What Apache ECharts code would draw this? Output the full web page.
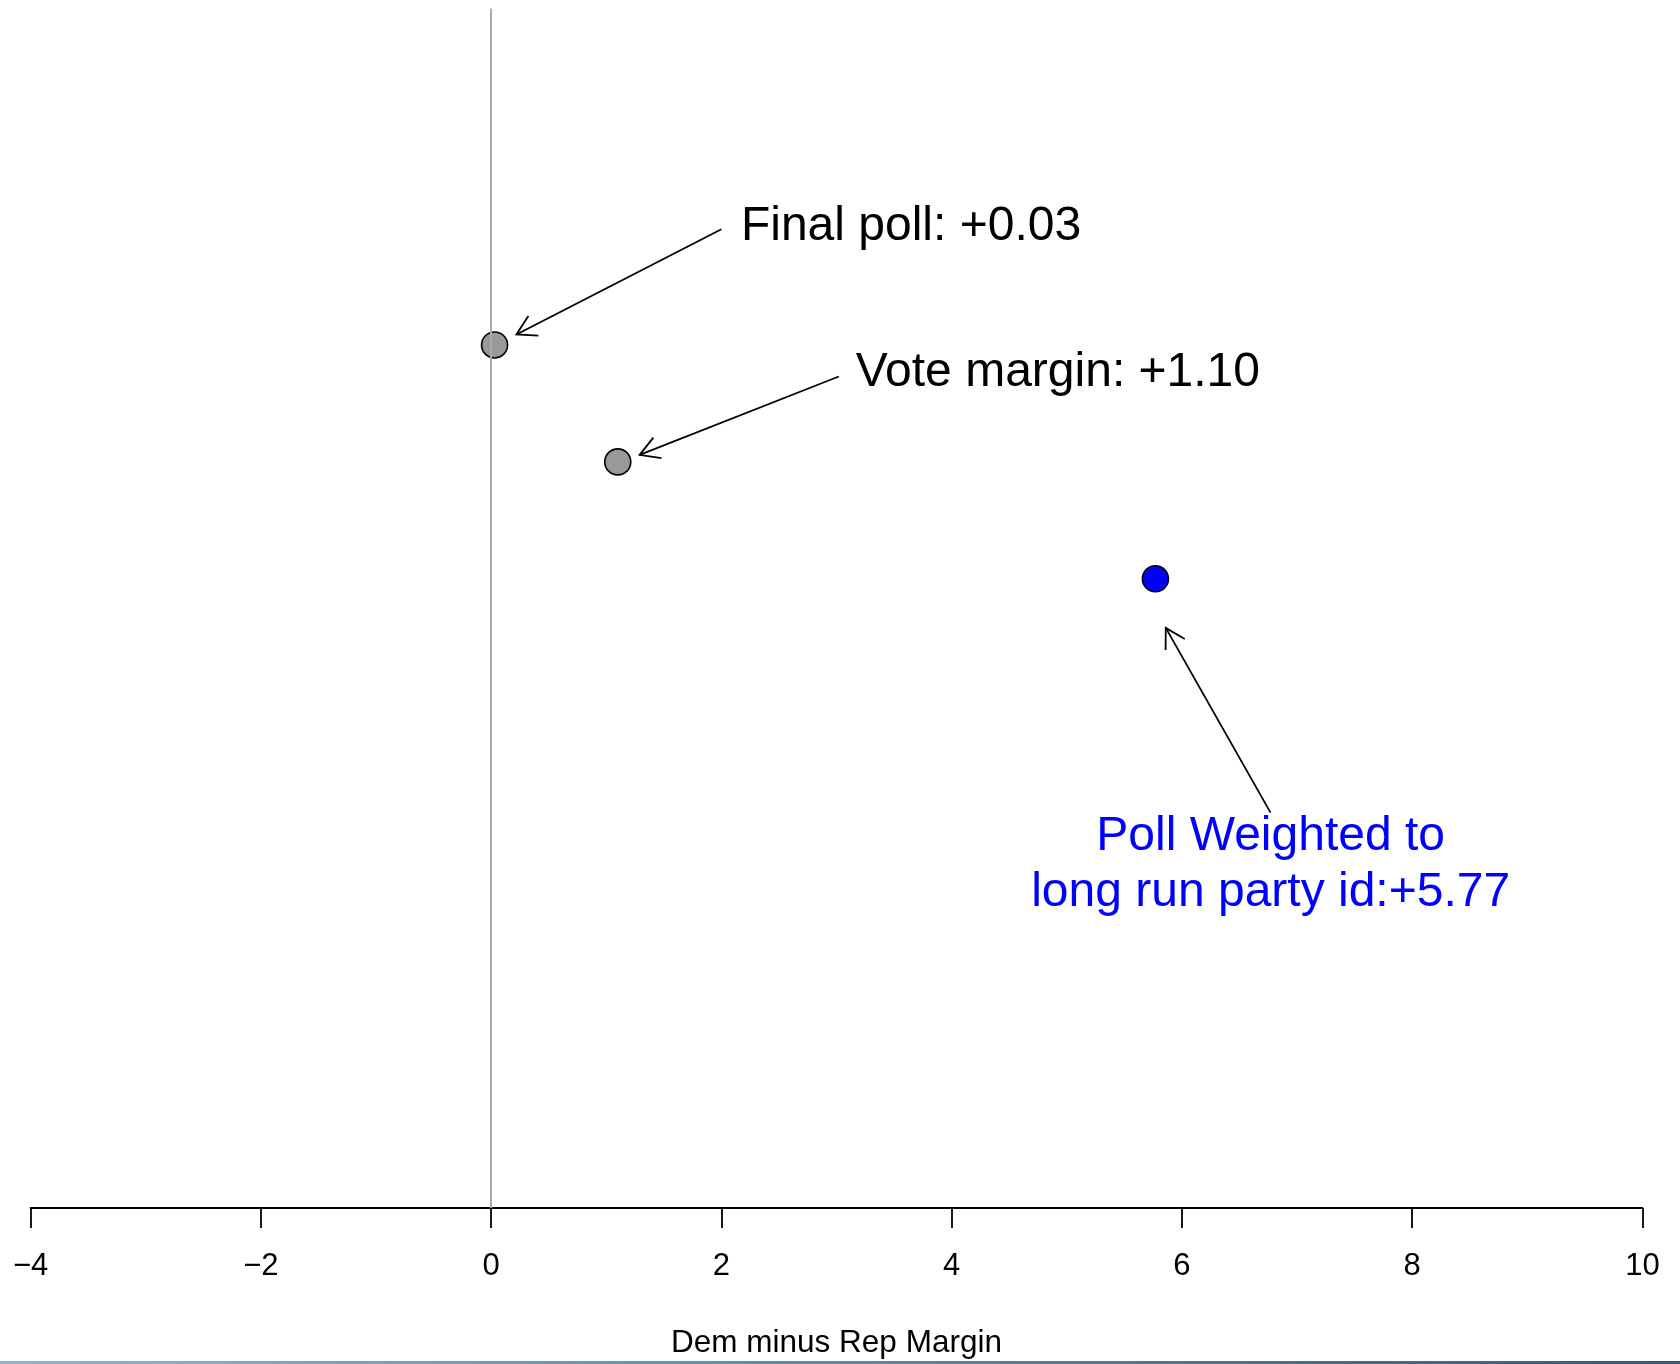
<!DOCTYPE html>
<html>
<head>
<meta charset="utf-8">
<script src="https://cdn.jsdelivr.net/npm/echarts@6/dist/echarts.min.js"></script>
<style>
  html, body { margin: 0; padding: 0; background: #ffffff; }
  #chart { width: 1680px; height: 1364px; }
</style>
</head>
<body>
<div id="chart"></div>
<script>
// ---- data ----
const xTicks = [-4, -2, 0, 2, 4, 6, 8, 10];
const pointNames = ['Final poll', 'Vote margin', 'Poll Weighted to long run party id'];
const pointX = [0.03, 1.10, 5.77];
const pointY = [3, 2, 1];
const labelTexts = ['Final poll: +0.03', 'Vote margin: +1.10', 'Poll Weighted to\nlong run party id:+5.77'];
const labelX = [2.17, 3.167, 6.771];
const labelY = [4.01, 2.76, -1.446];
const arrowFromX = [2.00, 3.02, 6.77];
const arrowFromY = [3.99, 2.73, -1.00];
const arrowToX = [0.22, 1.29, 5.86];
const arrowToY = [3.09, 2.06, 0.58];
const axisTitle = 'Dem minus Rep Margin';

// ---- styles ----
const FONT = '"Liberation Sans", Arial, Helvetica, sans-serif';
const pointFill = ['#999999', '#999999', '#0000ff'];
const labelColors = ['#000000', '#000000', '#0000ff'];

const chart = echarts.init(document.getElementById('chart'), null, { renderer: 'canvas' });

const scatterData = pointX.map((x, i) => ({
  name: pointNames[i],
  value: [x, pointY[i]],
  itemStyle: { color: pointFill[i], borderColor: '#000000', borderWidth: 1.6, opacity: 1 }
}));
const arrowData = arrowFromX.map((x, i) => [x, arrowFromY[i], arrowToX[i], arrowToY[i]]);
const labelData = labelX.map((x, i) => [x, labelY[i], i]);

const option = {
  animation: false,
  backgroundColor: '#ffffff',
  grid: { left: 30.6, right: 37.6, top: 8.5, bottom: 153.3, containLabel: false },
  xAxis: {
    type: 'value',
    min: xTicks[0],
    max: xTicks[xTicks.length - 1],
    interval: xTicks[1] - xTicks[0],
    position: 'bottom',
    splitLine: { show: false },
    axisLine: { show: true, onZero: false, lineStyle: { color: '#000000', width: 1.8 } },
    axisTick: { show: true, inside: false, length: 20, lineStyle: { color: '#000000', width: 1.8 } },
    axisLabel: {
      show: true, margin: 42.5, fontSize: 31, color: '#000000', fontFamily: FONT,
      showMinLabel: true, showMaxLabel: true,
      formatter: v => String(v).replace('-', '\u2212')
    },
    name: axisTitle,
    nameLocation: 'middle',
    nameGap: 119,
    nameTextStyle: { fontSize: 31.5, color: '#000000', fontFamily: FONT }
  },
  yAxis: {
    type: 'value', min: -4.382, max: 5.878, show: false,
    splitLine: { show: false }
  },
  series: [
    {
      type: 'custom',
      name: 'arrows',
      z: 1,
      coordinateSystem: 'cartesian2d',
      encode: { x: [0, 2], y: [1, 3] },
      data: arrowData,
      silent: true,
      renderItem: function (params, api) {
        const p1 = api.coord([api.value(0), api.value(1)]);
        const p2 = api.coord([api.value(2), api.value(3)]);
        const ang = Math.atan2(p1[1] - p2[1], p1[0] - p2[0]);
        const L = 22, a = Math.PI / 6;
        const b1 = [p2[0] + L * Math.cos(ang + a), p2[1] + L * Math.sin(ang + a)];
        const b2 = [p2[0] + L * Math.cos(ang - a), p2[1] + L * Math.sin(ang - a)];
        const st = { stroke: '#000000', lineWidth: 1.8, fill: null };
        return {
          type: 'group',
          children: [
            { type: 'line', shape: { x1: p1[0], y1: p1[1], x2: p2[0], y2: p2[1] }, style: st },
            { type: 'polyline', shape: { points: [b1, p2, b2] }, style: st }
          ]
        };
      },
      markLine: {
        silent: true,
        symbol: ['none', 'none'],
        label: { show: false },
        lineStyle: { color: '#aaaaaa', width: 2, type: 'solid' },
        data: [{ xAxis: 0 }]
      }
    },
    {
      type: 'scatter',
      name: 'points',
      z: 3,
      symbol: 'circle',
      symbolSize: 26,
      data: scatterData,
      silent: true
    },
    {
      type: 'custom',
      name: 'labels',
      z: 4,
      coordinateSystem: 'cartesian2d',
      encode: { x: 0, y: 1 },
      data: labelData,
      silent: true,
      renderItem: function (params, api) {
        const i = api.value(2);
        const p = api.coord([api.value(0), api.value(1)]);
        const centered = i === 2;
        return {
          type: 'text',
          x: p[0], y: p[1],
          style: {
            text: labelTexts[i],
            fill: labelColors[i],
            fontSize: 48,
            fontFamily: FONT,
            align: centered ? 'center' : 'left',
            verticalAlign: 'middle',
            lineHeight: 56
          }
        };
      }
    }
  ],
  graphic: [
    {
      type: 'rect',
      left: 0, top: 1361,
      shape: { width: 1680, height: 3 },
      style: {
        fill: new echarts.graphic.LinearGradient(0, 0, 1, 0, [
          { offset: 0, color: '#8fb4cf' },
          { offset: 1, color: '#2e5c82' }
        ])
      },
      silent: true
    }
  ]
};

chart.setOption(option);
</script>
</body>
</html>
